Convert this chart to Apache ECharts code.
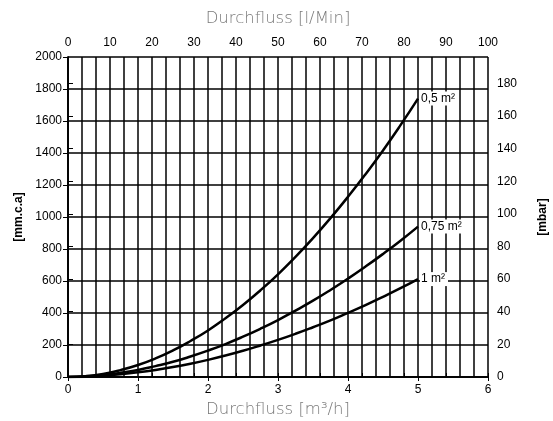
<!DOCTYPE html>
<html><head><meta charset="utf-8">
<script src="https://cdn.jsdelivr.net/npm/echarts@6/dist/echarts.min.js"></script>
<style>html,body{margin:0;padding:0;background:#fff}#c{width:553px;height:421px}</style>
</head><body><div id="c"></div>
<script>
// Flow in m3/h
const flow = [0,0.25,0.5,0.75,1,1.25,1.5,1.75,2,2.25,2.5,2.75,3,3.25,3.5,3.75,4,4.25,4.5,4.75,5];
// Pressure drop in mm water column
const area05 = [0,5,19,43,75,116,166,225,291,367,450,542,642,751,868,993,1126,1267,1416,1574,1740];
const area075 = [0,3,12,26,44,68,95,128,165,206,252,302,356,415,477,544,615,690,769,852,940];
const area1 = [0,2,8,17,29,44,62,83,107,134,164,197,232,270,311,354,401,449,501,555,612];
const seriesNames = ['0,5 m²','0,75 m²','1 m²'];
const bottomLabels = [0,1,2,3,4,5,6];
const mbarLabels = [0,20,40,60,80,100,120,140,160,180];

const tickFont = {fontFamily:'Liberation Sans, Arial', fontSize:12, color:'#000'};
const nameFont = {fontFamily:'DejaVu Sans', fontSize:16.5, color:'#7a7a7a', fontWeight:200};
const black = '#000';

function mk(vals){ return flow.map((x,i)=>[x,vals[i]]); }
function line(name, vals){
  return {type:'line', name:name, data:mk(vals), smooth:true, symbol:'none',
    lineStyle:{color:black,width:2.5}, xAxisIndex:0, yAxisIndex:0,
    endLabel:{show:true, formatter:name, distance:2, backgroundColor:'#fff',
      padding:[1,3,1,1], fontFamily:'Liberation Sans, Arial', fontSize:12, color:'#000'}};
}
const plain = v => String(v);

const chart = echarts.init(document.getElementById('c'));
chart.setOption({
  animation:false,
  backgroundColor:'#fff',
  grid:{left:68,right:65,top:57,bottom:44,containLabel:false,outerBoundsMode:'none'},
  xAxis:[
    {type:'value',position:'bottom',min:0,max:6,interval:1,
     name:'Durchfluss [m³/h]',nameLocation:'middle',nameGap:23,nameTextStyle:nameFont,
     axisLine:{show:true,onZero:false,lineStyle:{color:black,width:1.5}},
     axisTick:{show:true,length:4,lineStyle:{color:black}},
     axisLabel:Object.assign({margin:7,formatter:plain},tickFont),
     splitLine:{show:false}},
    {type:'value',position:'top',min:0,max:100,interval:10,
     name:'Durchfluss [l/Min]',nameLocation:'middle',nameGap:30,nameTextStyle:nameFont,
     axisLine:{show:true,lineStyle:{color:black,width:1.5}},
     axisTick:{show:true,length:4,lineStyle:{color:black}},
     axisLabel:Object.assign({margin:8,formatter:plain},tickFont),
     splitLine:{show:false}},
    {type:'value',position:'bottom',min:0,max:6,interval:0.2,
     axisLine:{show:false},axisTick:{show:false},axisLabel:{show:false},
     splitLine:{show:true,lineStyle:{color:black,width:1.5}}}
  ],
  yAxis:[
    {type:'value',position:'left',min:0,max:2000,interval:200,
     name:'[mm.c.a]',nameLocation:'middle',nameGap:42,nameRotate:90,
     nameTextStyle:{fontFamily:'Liberation Sans, Arial',fontSize:12,fontWeight:'bold',color:'#000'},
     axisLine:{show:true,lineStyle:{color:black,width:1.5}},
     axisTick:{show:true,length:5,lineStyle:{color:black}},
     axisLabel:Object.assign({margin:6,formatter:plain},tickFont),
     splitLine:{show:true,lineStyle:{color:black,width:1.5}}},
    {type:'value',position:'right',min:0,max:196.13,interval:20,
     name:'[mbar]',nameLocation:'middle',nameGap:49,nameRotate:90,
     nameTextStyle:{fontFamily:'Liberation Sans, Arial',fontSize:12,fontWeight:'bold',color:'#000'},
     axisLine:{show:true,lineStyle:{color:black,width:1.5}},
     axisTick:{show:true,length:5,customValues:mbarLabels,lineStyle:{color:black}},
     axisLabel:Object.assign({customValues:mbarLabels,margin:9,formatter:plain},tickFont),
     splitLine:{show:false}}
  ],
  series:[ line(seriesNames[0],area05), line(seriesNames[1],area075), line(seriesNames[2],area1) ]
});
</script></body></html>
